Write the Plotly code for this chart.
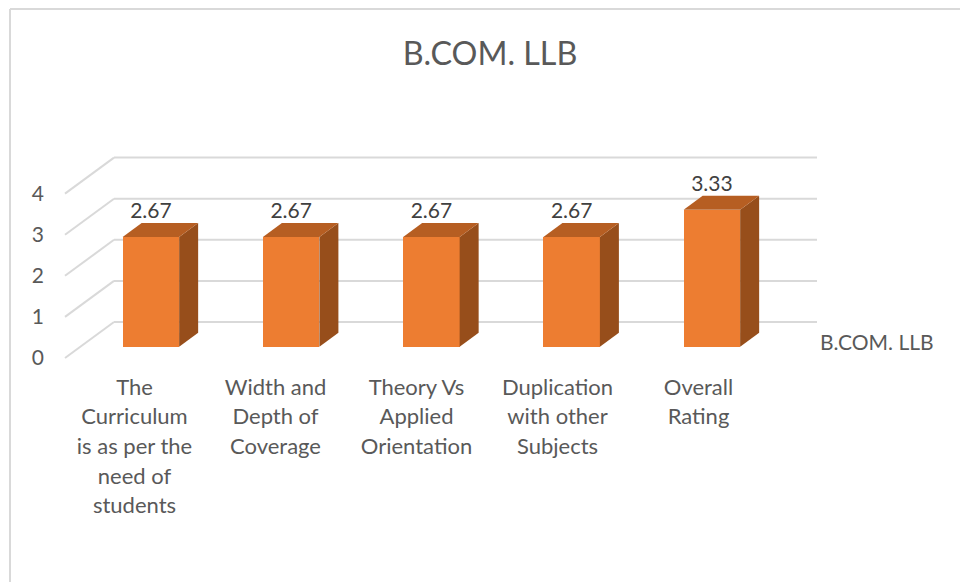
import numpy as np
import plotly.graph_objects as go

# ---- data ----
categories = ["The Curriculum is as per the need of students", "Width and Depth of Coverage",
              "Theory Vs Applied Orientation", "Duplication with other Subjects", "Overall Rating"]
category_lines = [["The", "Curriculum", "is as per the", "need of", "students"],
                  ["Width and", "Depth of", "Coverage"],
                  ["Theory Vs", "Applied", "Orientation"],
                  ["Duplication", "with other", "Subjects"],
                  ["Overall", "Rating"]]
values = [2.67, 2.67, 2.67, 2.67, 3.33]
value_labels = ["2.67", "2.67", "2.67", "2.67", "3.33"]
y_ticks = [0, 1, 2, 3, 4]
series_name = "B.COM. LLB"

# ---- geometry (pixels of the 960x582 page) ----
W, H = 960, 582
PX_L, PX_R, PX_T, PX_B = 50, 850, 140, 371
UNIT = 41.1
BAR_X0, BAR_STEP, BAR_W = 150.9, 140.25, 56.5
BAR_ZERO = 346.7
AXIS_ZERO = 358.0
LABEL_X0, LABEL_STEP = 134.5, 141.0
DEPTH_DX, DEPTH_DY = 19.0, 14.0
WALL_X0, WALL_X1, WALL_LEFT, WALL_ZERO = 114.0, 817.0, 65.0, 322.0
GRID = "#D9D9D9"
TEXT = "#595959"
FONT = "Lato"

idx = np.arange(len(values))
xb = lambda px: (px - BAR_X0) / BAR_STEP
yb = lambda px: (BAR_ZERO - px) / UNIT
half = BAR_W / BAR_STEP / 2
ddx, ddy = DEPTH_DX / BAR_STEP, DEPTH_DY / UNIT

fig = go.Figure()
fig.add_trace(go.Scatter(x=idx, y=values, mode="markers", marker=dict(opacity=0),
                         hoverinfo="skip", showlegend=False, xaxis="x", yaxis="y"))
fig.add_trace(go.Bar(x=idx, y=values, width=2 * half, marker=dict(color="#ED7D31", line_width=0),
                     name=series_name, showlegend=False, xaxis="x2", yaxis="y2"))
for i, v in zip(idx, values):
    xl, xr = i - half, i + half
    fig.add_trace(go.Scatter(x=[xr, xr + ddx, xr + ddx, xr, xr], y=[0, ddy, v + ddy, v, 0],
                             mode="lines", fill="toself", fillcolor="#974E1B", line=dict(width=0),
                             hoverinfo="skip", showlegend=False, xaxis="x2", yaxis="y2"))
    fig.add_trace(go.Scatter(x=[xl, xr, xr + ddx, xl + ddx, xl], y=[v, v, v + ddy, v + ddy, v],
                             mode="lines", fill="toself", fillcolor="#B65E22", line=dict(width=0),
                             hoverinfo="skip", showlegend=False, xaxis="x2", yaxis="y2"))
fig.add_trace(go.Scatter(x=idx, y=[v + ddy for v in values], text=value_labels, mode="text",
                         textposition="top center", textfont=dict(family=FONT, size=21, color="#404040"),
                         hoverinfo="skip", showlegend=False, xaxis="x2", yaxis="y2"))

shapes = []
wall_base = yb(WALL_ZERO)
for g in y_ticks:
    shapes.append(dict(type="line", layer="below", xref="x2", yref="y2",
                       x0=xb(WALL_X0), x1=xb(WALL_X1), y0=g + wall_base, y1=g + wall_base,
                       line=dict(color=GRID, width=2)))
    shapes.append(dict(type="line", layer="below", xref="x2", yref="y2",
                       x0=xb(WALL_LEFT), x1=xb(WALL_X0), y0=g + yb(AXIS_ZERO), y1=g + wall_base,
                       line=dict(color=GRID, width=2)))
# chart frame
shapes.append(dict(type="line", xref="paper", yref="paper", x0=10 / W, x1=10 / W, y0=0, y1=1 - 9 / H,
                   line=dict(color=GRID, width=2)))
shapes.append(dict(type="line", xref="paper", yref="paper", x0=10 / W, x1=1, y0=1 - 9 / H, y1=1 - 9 / H,
                   line=dict(color=GRID, width=2)))

ticktext = ["<br>".join(f'<span style="font-size:22px">{s}</span>' for s in lines) for lines in category_lines]

fig.update_layout(
    width=W, height=H, margin=dict(l=0, r=0, t=0, b=0), autosize=False,
    paper_bgcolor="white", plot_bgcolor="white", showlegend=False, shapes=shapes,
    font=dict(family=FONT, color=TEXT),
    title=dict(text=series_name, x=490 / W, xanchor="center", y=1 - 54 / H, yanchor="middle",
               font=dict(family=FONT, size=32.3, color=TEXT)),
    annotations=[dict(text=series_name, xref="paper", yref="paper", x=818 / W, y=1 - 341 / H,
                      xanchor="left", yanchor="middle", showarrow=False,
                      font=dict(family=FONT, size=21, color=TEXT))],
    xaxis=dict(domain=[PX_L / W, PX_R / W],
               range=[(PX_L - LABEL_X0) / LABEL_STEP, (PX_R - LABEL_X0) / LABEL_STEP],
               tickmode="array", tickvals=idx, ticktext=ticktext, showgrid=False, zeroline=False,
               showline=False, ticks="", tickangle=0, tickfont=dict(family=FONT, size=22.8, color=TEXT)),
    yaxis=dict(domain=[1 - PX_B / H, 1 - PX_T / H],
               range=[(AXIS_ZERO - PX_B) / UNIT, (AXIS_ZERO - PX_T) / UNIT],
               tickmode="array", tickvals=y_ticks, showgrid=False, zeroline=False, showline=False,
               ticks="", ticklabelstandoff=5, tickfont=dict(family=FONT, size=21, color=TEXT)),
    xaxis2=dict(overlaying="x", anchor="y2", range=[xb(PX_L), xb(PX_R)], visible=False),
    yaxis2=dict(overlaying="y", anchor="x2", range=[yb(PX_B), yb(PX_T)], visible=False),
    bargap=0,
)
fig.write_html("out.html", post_script="document.body.style.margin='0';",
               config=dict(displayModeBar=False))
